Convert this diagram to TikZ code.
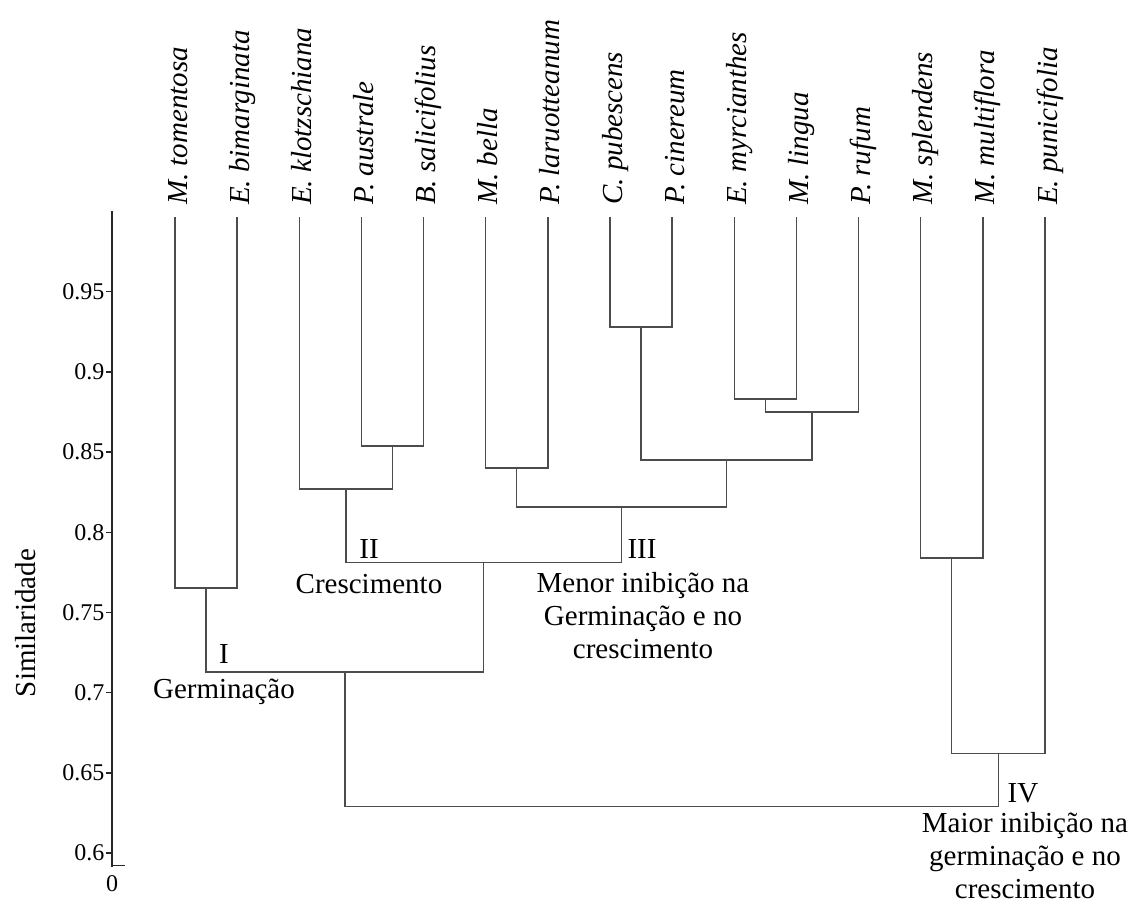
\documentclass[tikz,border=0pt]{standalone}
\usepackage{fontspec}
\setmainfont{Liberation Serif}
\begin{document}
\begin{tikzpicture}[x=1pt,y=-1pt,
  dend/.style={line width=1.4pt, draw=black!70},
  axisline/.style={line width=1.4pt, draw=black!85},
  sp/.style={font=\fontsize{29}{34}\selectfont\itshape, rotate=90, anchor=base west, inner sep=0pt},
  lab/.style={font=\fontsize{29}{33}\selectfont, inner sep=0pt, align=center},
  ticklab/.style={font=\fontsize{24}{28}\selectfont, anchor=east, inner sep=0pt}]
\useasboundingbox (0,0) rectangle (1133,904);

% species labels and leaf tops
\foreach \i/\x/\t in {1/175.0/M. tomentosa, 2/237.1/E. bimarginata, 3/299.3/E. klotzschiana,
  4/361.4/P. australe, 5/423.6/B. salicifolius, 6/485.7/M. bella, 7/547.8/P. laruotteanum,
  8/610.0/C. pubescens, 9/672.1/P. cinereum, 10/734.3/E. myrcianthes, 11/796.4/M. lingua,
  12/858.5/P. rufum, 13/920.7/M. splendens, 14/982.8/M. multiflora, 15/1045.0/E. punicifolia}{
  \node[sp] (s\i) at (\x+12,205) {\t};
  \coordinate (t\i) at (\x,217);
}

% merge points
\coordinate (nA) at (206.05,588);
\coordinate (nB) at (392.5,446);
\coordinate (nC) at (345.9,489);
\coordinate (nD) at (516.75,468);
\coordinate (nE) at (641.05,327);
\coordinate (nF) at (765.35,399);
\coordinate (nG) at (811.9,412);
\coordinate (nH) at (726.5,460);
\coordinate (nI) at (621.6,507);
\coordinate (nJ) at (483.75,562.5);
\coordinate (nK) at (344.9,672);
\coordinate (nL) at (951.75,558);
\coordinate (nM) at (998.4,753.5);
\coordinate (nR) at (671.6,806.5);

\draw[dend] (t1) |- (nA) -| (t2);
\draw[dend] (t4) |- (nB) -| (t5);
\draw[dend] (t3) |- (nC) -| (nB);
\draw[dend] (t6) |- (nD) -| (t7);
\draw[dend] (t8) |- (nE) -| (t9);
\draw[dend] (t10) |- (nF) -| (t11);
\draw[dend] (nF) |- (nG) -| (t12);
\draw[dend] (nE) |- (nH) -| (nG);
\draw[dend] (nD) |- (nI) -| (nH);
\draw[dend] (nC) |- (nJ) -| (nI);
\draw[dend] (nA) |- (nK) -| (nJ);
\draw[dend] (t13) |- (nL) -| (t14);
\draw[dend] (nL) |- (nM) -| (t15);
\draw[dend] (nK) |- (nR) -| (nM);

% axis
\coordinate (axT) at (112,211);
\coordinate (axB) at (112,867);
\coordinate (axC) at (112,865.5);
\coordinate (axR) at (125,865.5);
\draw[axisline] (axT) -- (axB);
\draw[axisline] (axC) -- (axR);
\foreach \k/\v/\y in {1/0.6/853, 2/0.65/772.8, 3/0.7/692.6, 4/0.75/612.4, 5/0.8/532.2, 6/0.85/452, 7/0.9/371.8, 8/0.95/291.6}{
  \coordinate (tk\k) at (112,\y);
  \coordinate (tl\k) at (106,\y);
  \draw[axisline] (tl\k) -- (tk\k);
  \node[ticklab] (v\k) at (104.5,\y) {\v};
}
\node[ticklab, anchor=center] (zero) at (112,884) {0};
\node[lab, rotate=90, anchor=base] (ylab) at (35,623) {Similaridade};

% group labels
\node[lab, anchor=base] (gI) at (224,663) {I};
\node[lab, anchor=base] (gIt) at (224,698) {Germinação};
\node[lab, anchor=base] (gII) at (369,558) {II};
\node[lab, anchor=base] (gIIt) at (369,593) {Crescimento};
\node[lab, anchor=base] (gIII) at (642,558) {III};
\node[lab] (gIIIt) at (643,616) {Menor inibição na\\Germinação e no\\crescimento};
\node[lab, anchor=base] (gIV) at (1023,802) {IV};
\node[lab] (gIVt) at (1025,856) {Maior inibição na\\germinação e no\\crescimento};
\end{tikzpicture}
\end{document}
